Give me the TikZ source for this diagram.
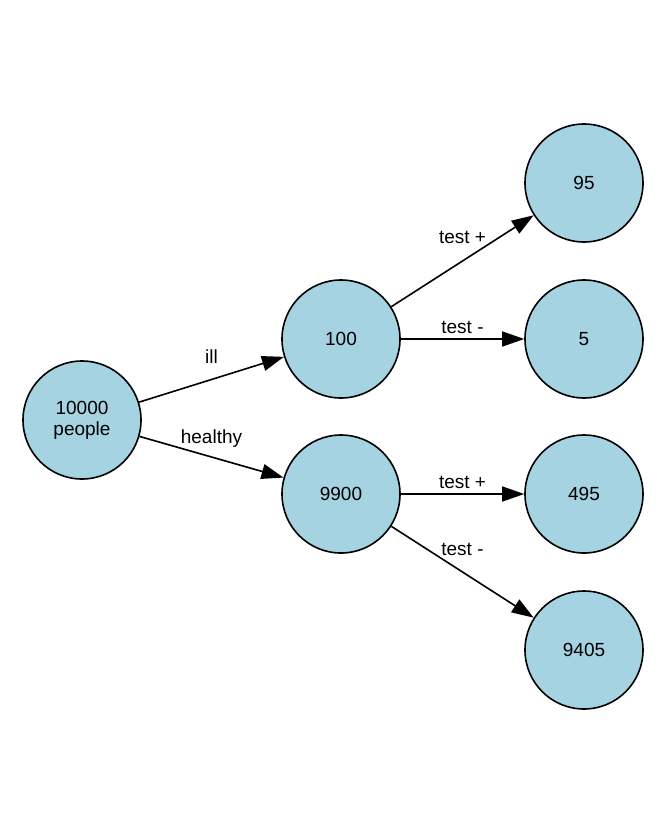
\documentclass[tikz,border=0pt]{standalone}
\usepackage{fontspec}
\setmainfont{Liberation Sans}
\usetikzlibrary{arrows.meta}
\definecolor{nodeblue}{RGB}{166,211,226}
\tikzset{
	state/.style={circle, draw, fill=nodeblue, line width=1.6pt, minimum size=118pt, inner sep=0pt, align=center, font=\fontsize{19}{21}\selectfont},
	edge/.style={line width=1.6pt, -{Triangle[length=22pt,width=15pt]}},
	lbl/.style={font=\fontsize{19}{21}\selectfont, inner sep=0pt}
}
\begin{document}
\begin{tikzpicture}[x=1pt, y=-1pt]
		\useasboundingbox (0,0) rectangle (665,833);
		%nodes
		\node[state] (people) at (82,420) {10000\\people};
		\node[state] (ill) at (341,339) {100};
		\node[state] (healthy) at (341,494) {9900};
		\node[state] (illpos) at (584,183) {95};
		\node[state] (illneg) at (584,339) {5};
		\node[state] (hpos) at (584,494) {495};
		\node[state] (hneg) at (584,650) {9405};
		
		%edges
		\draw[edge] (people) -- node[lbl, yshift=23pt]{ill} (ill);
		\draw[edge] (people) -- node[lbl, yshift=18pt]{healthy} (healthy);
		\draw[edge] (ill) -- node[lbl, yshift=24pt]{test +} (illpos);
		\draw[edge] (ill) -- node[lbl, yshift=12pt]{test -} (illneg);
		\draw[edge] (healthy) -- node[lbl, yshift=12pt]{test +} (hpos);
		\draw[edge] (healthy) -- node[lbl, yshift=23pt]{test -} (hneg);
\end{tikzpicture}
\end{document}
